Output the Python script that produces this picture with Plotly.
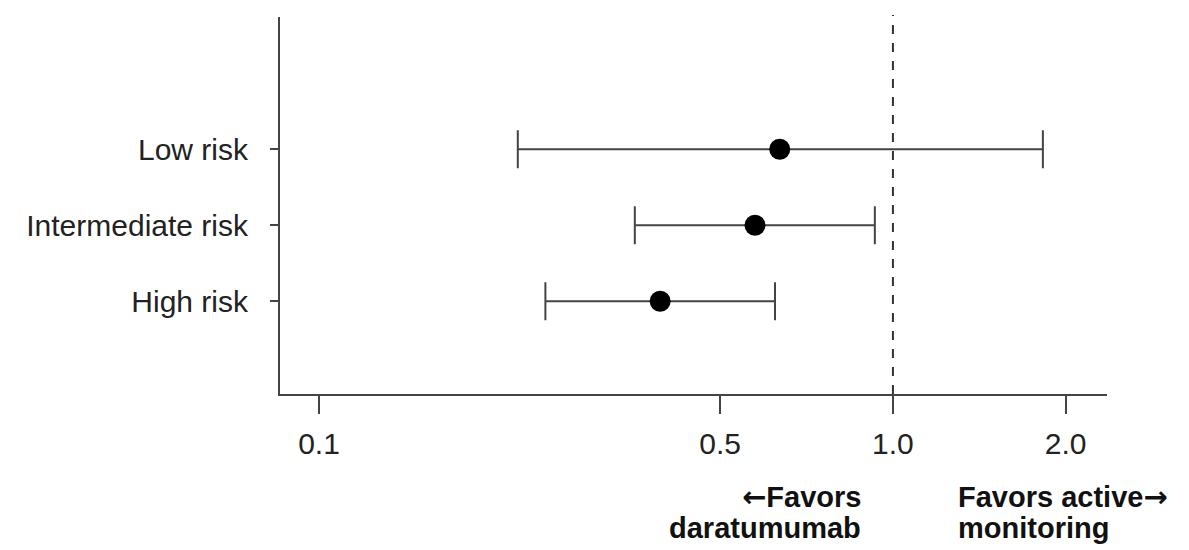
import plotly.graph_objects as go

# Hazard ratios with 95% confidence intervals by risk group
groups = ["Low risk", "Intermediate risk", "High risk"]
hr = [0.635, 0.575, 0.393]
ci_low = [0.222, 0.355, 0.248]
ci_high = [1.825, 0.930, 0.623]
row_pos = [3, 2, 1]

tick_vals = [0.1, 0.5, 1.0, 2.0]
tick_text = ["0.1", "0.5", "1.0", "2.0"]

FONT = "Liberation Sans, Arial, sans-serif"
LINE = "#444444"
ARROW = '<span style="font-family:DejaVu Sans">{}</span>'

fig = go.Figure()
fig.add_trace(go.Scatter(
    x=hr,
    y=row_pos,
    mode="markers",
    marker=dict(color="black", size=21),
    error_x=dict(
        type="data",
        symmetric=False,
        array=[h - e for h, e in zip(ci_high, hr)],
        arrayminus=[e - l for e, l in zip(hr, ci_low)],
        color=LINE,
        thickness=2,
        width=19,
    ),
    showlegend=False,
    hoverinfo="skip",
))

# Reference line at HR = 1
fig.add_shape(type="line", xref="x", yref="paper", x0=1.0, x1=1.0, y0=0, y1=1.005,
              line=dict(color="#333333", width=2, dash="dash"))

ann_font = dict(family=FONT, size=29, color="#111111")
fig.add_annotation(text="<b>" + ARROW.format("←") + "Favors</b>", xref="paper", yref="paper",
                   x=0.705, y=-0.273, xanchor="right", yanchor="middle", showarrow=False, font=ann_font)
fig.add_annotation(text="<b>daratumumab</b>", xref="paper", yref="paper", x=0.705, y=-0.355,
                   xanchor="right", yanchor="middle", showarrow=False, font=ann_font)
fig.add_annotation(text="<b>Favors active" + ARROW.format("→") + "</b>", xref="paper", yref="paper",
                   x=0.817, y=-0.273, xanchor="left", yanchor="middle", showarrow=False, font=ann_font)
fig.add_annotation(text="<b>monitoring</b>", xref="paper", yref="paper", x=0.817, y=-0.355,
                   xanchor="left", yanchor="middle", showarrow=False, font=ann_font)

fig.update_xaxes(
    type="log",
    range=[-1.068, 0.373],
    tickvals=tick_vals,
    ticktext=tick_text,
    ticks="outside",
    ticklen=18,
    tickwidth=2,
    tickcolor=LINE,
    ticklabelstandoff=4,
    showline=True,
    linecolor=LINE,
    linewidth=2,
    showgrid=False,
    zeroline=False,
    tickfont=dict(family=FONT, size=30, color="#222222"),
)
fig.update_yaxes(
    range=[-0.22, 4.74],
    tickvals=row_pos,
    ticktext=groups,
    ticks="outside",
    ticklen=8,
    tickwidth=2,
    tickcolor=LINE,
    ticklabelstandoff=16,
    showline=True,
    linecolor=LINE,
    linewidth=2,
    showgrid=False,
    zeroline=False,
    tickfont=dict(family=FONT, size=30, color="#222222"),
)

fig.update_layout(
    width=1189,
    height=550,
    margin=dict(l=280, r=82, t=17, b=156),
    plot_bgcolor="white",
    paper_bgcolor="white",
)

fig.write_html("out.html")
